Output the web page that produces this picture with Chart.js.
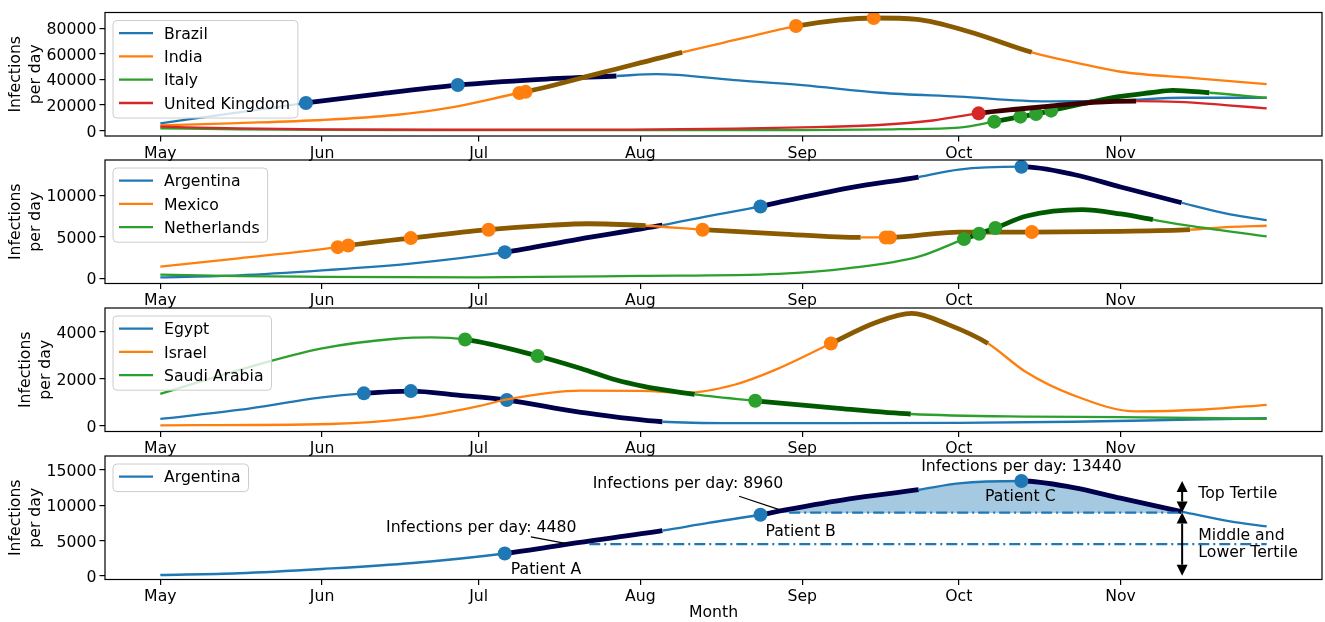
<!DOCTYPE html>
<html>
<head>
<meta charset="utf-8">
<script src="https://cdn.jsdelivr.net/npm/chart.js"></script>
<style>
  body { margin: 0; background: #fff; }
  #wrap { position: relative; width: 1325px; height: 622px; }
  canvas { position: absolute; left: 0; top: 0; }
</style>
</head>
<body>
<div id="wrap">
  <canvas id="c1" width="1325" height="622"></canvas>
  <canvas id="c2" width="1325" height="622"></canvas>
  <canvas id="c3" width="1325" height="622"></canvas>
  <canvas id="c4" width="1325" height="622"></canvas>
</div>
<script>
// x axis = days since 1 May
const monthDays = [0, 31, 61, 92, 123, 153, 184];
const monthNames = ['May', 'Jun', 'Jul', 'Aug', 'Sep', 'Oct', 'Nov'];

// panel 1
const brazilDays = [0, 14, 27.9, 42, 57, 72, 87.4, 95, 110, 123, 138, 153, 170, 184, 196, 212];
const brazilVals = [5600, 13500, 21500, 28700, 35500, 39800, 42600, 44000, 39400, 35500, 29500, 26400, 22700, 23500, 25600, 25600];
const brazilThick = [[27.9, 87.4]];
const brazilDots = [27.9, 57];

const indiaDays = [0, 15, 31, 45, 55.5, 68.8, 70, 85, 100, 111, 121.8, 130, 136.7, 145, 155, 167, 176, 184, 198, 212];
const indiaVals = [4000, 5800, 8200, 12100, 17800, 29300, 30200, 45600, 61100, 71500, 81600, 86300, 87900, 86800, 77200, 61100, 52500, 45900, 41000, 36300];
const indiaThick = [[68.8, 100], [121.8, 167]];
const indiaDots = [68.8, 70, 121.8, 136.7];

const italyDays = [0, 15, 31, 60, 90, 123, 141.5, 153, 159.8, 164.8, 167.8, 170.7, 178.6, 183.6, 189.7, 194, 201, 212];
const italyVals = [1700, 900, 450, 300, 300, 300, 1000, 2200, 6900, 10800, 12900, 15500, 22500, 26400, 29500, 31400, 29500, 25600];
const italyThick = [[159.8, 201]];
const italyDots = [159.8, 164.8, 167.8, 170.7];

const ukDays = [0, 15, 31, 60, 90, 110, 123, 137.7, 148, 156.8, 164, 170.5, 178.8, 187, 195, 204, 212];
const ukVals = [3000, 1600, 900, 600, 700, 1400, 2500, 4300, 7800, 13400, 16600, 19100, 22000, 23000, 22400, 19900, 17300];
const ukThick = [[156.8, 187]];
const ukDots = [156.8];

// panel 2 (Argentina also used in panel 4)
const argDays = [0, 15, 31, 48.4, 66, 80, 96.2, 105, 115, 118.5, 132, 145.3, 153, 165, 175, 184, 195.7, 205, 212];
const argVals = [100, 350, 950, 1800, 3150, 4700, 6400, 7500, 8650, 9150, 10900, 12200, 13100, 13440, 12500, 11000, 9100, 7700, 7000];
const argThick = [[66, 96.2], [115, 145.3], [165, 195.7]];
const argDots = [66, 115, 165];

const mexDays = [0, 15, 34, 36, 48, 62.9, 75, 82, 93, 103.9, 118.5, 134.2, 139, 139.8, 153, 167, 184, 197.3, 205, 212];
const mexVals = [1400, 2400, 3750, 3950, 4840, 5850, 6400, 6570, 6330, 5850, 5360, 4920, 4920, 4920, 5570, 5570, 5650, 5850, 6200, 6330];
const mexThick = [[36, 93], [103.9, 134.2], [139.8, 197.3]];
const mexDots = [34, 36, 48, 62.9, 103.9, 139, 139.8, 167];

const nethDays = [0, 15, 31, 61, 92, 118.5, 132, 145.3, 154, 156.9, 160, 166, 176.6, 184, 190.2, 198, 212];
const nethVals = [450, 250, 180, 120, 280, 520, 1210, 2600, 4720, 5360, 6050, 7500, 8270, 7750, 7060, 6250, 5040];
const nethThick = [[154, 190.2]];
const nethDots = [154, 156.9, 160];

// panel 3
const egyptDays = [0, 15, 31, 39, 48, 57, 66.4, 80, 96.2, 110, 130, 153, 175, 195, 212];
const egyptVals = [300, 680, 1215, 1385, 1480, 1310, 1100, 600, 180, 120, 120, 130, 180, 260, 330];
const egyptThick = [[39, 96.2]];
const egyptDots = [39, 48, 66.4];

const israelDays = [0, 32.5, 50, 61.2, 66.4, 80.5, 92, 100.8, 110, 117.7, 128.5, 137, 144, 151, 158.6, 165.8, 175, 187, 200, 212];
const israelVals = [30, 85, 390, 850, 1130, 1500, 1490, 1410, 1750, 2370, 3500, 4380, 4775, 4300, 3500, 2300, 1300, 620, 700, 900];
const israelThick = [[128.5, 158.6]];
const israelDots = [128.5];

const saudiDays = [0, 15, 31, 45, 52, 58.4, 72.3, 80.6, 87.4, 92.4, 97.5, 102.4, 114, 130, 143.8, 165.8, 184, 212];
const saudiVals = [1360, 2370, 3290, 3700, 3760, 3670, 2970, 2440, 1950, 1695, 1500, 1340, 1070, 750, 510, 400, 380, 300];
const saudiThick = [[58.4, 102.4], [114, 143.8]];
const saudiDots = [58.4, 72.3, 114];

// panel 4 annotations
const tertileValues = [4480, 8960, 13440];
const thresholdStart = [82.2, 120.5];
const thresholdEnd = [212, 195.6];
const patientNames = ['Patient A', 'Patient B', 'Patient C'];
const patientLabelX = [73.9, 122.7, 164.8];
const patientLabelY = [810, 6230, 11140];
const annotX = [61.5, 101.1, 165];
const annotY = [6750, 13080, 15440];
const connFromX = [71, 110.9];
const connFromY = [5520, 11280];
const connToX = [78.4, 118.9];
const connToY = [4480, 9300];
const tertileArrowX = 195.8;
const tertileLabelX = 198.9;
const tertileLabels = ['Top Tertile', 'Middle and', 'Lower Tertile'];
const tertileLabelY = [11670, 5660, 3170];

const p1Ticks = [0, 20000, 40000, 60000, 80000];
const p2Ticks = [0, 5000, 10000];
const p3Ticks = [0, 2000, 4000];
const p4Ticks = [0, 5000, 10000, 15000];

const FONT = "'DejaVu Sans', sans-serif";
const FS = 15.7;
const CAP = 0.3645 * FS; // half cap height, to centre text on a line
const BLUE = '#1f77b4', ORANGE = '#ff7f0e', GREEN = '#2ca02c', RED = '#d62728';
const NAVY = '#00004d', BROWN = '#8a5a00', DGREEN = '#005a00', MAROON = '#3d0000';

function pts(days, vals) {
  return days.map((d, i) => ({ x: d, y: vals[i] }));
}

function serie(label, days, vals, color, dark, thick, dots, order) {
  const isThick = c => thick.some(r => c.p0.parsed.x >= r[0] - 1e-9 && c.p1.parsed.x <= r[1] + 1e-9);
  return {
    label, order,
    data: pts(days, vals),
    borderColor: color,
    borderWidth: 2.3,
    borderJoinStyle: 'round',
    cubicInterpolationMode: 'monotone',
    pointRadius: c => (c.raw && dots.includes(c.raw.x)) ? 7 : 0,
    pointHoverRadius: 0,
    pointBackgroundColor: color,
    pointBorderWidth: 0,
    fill: false,
    segment: {
      borderColor: c => isThick(c) ? dark : color,
      borderWidth: c => isThick(c) ? 4.8 : 2.3
    }
  };
}

function drawLegend(chart) {
  const ctx = chart.ctx, a = chart.chartArea;
  const items = chart.data.datasets.filter(d => d.label);
  ctx.save();
  ctx.font = FS + 'px ' + FONT;
  const tw = Math.max(...items.map(d => ctx.measureText(d.label).width));
  const x0 = a.left + 8, y0 = a.top + 8;
  const w = 51 + tw + 8, h = 27.6 + (items.length - 1) * 23.3;
  ctx.beginPath();
  ctx.roundRect(x0, y0, w, h, 4);
  ctx.fillStyle = 'rgba(255,255,255,0.8)';
  ctx.fill();
  ctx.strokeStyle = '#cccccc';
  ctx.lineWidth = 1;
  ctx.stroke();
  items.forEach((d, i) => {
    const y = y0 + 12.6 + i * 23.3;
    ctx.strokeStyle = d.borderColor;
    ctx.lineWidth = 2.3;
    ctx.beginPath();
    ctx.moveTo(x0 + 6, y);
    ctx.lineTo(x0 + 40, y);
    ctx.stroke();
    ctx.fillStyle = '#000';
    ctx.textBaseline = 'alphabetic';
    ctx.textAlign = 'left';
    ctx.fillText(d.label, x0 + 51, y + CAP);
  });
  ctx.restore();
}

function drawFrame(chart) {
  const ctx = chart.ctx, a = chart.chartArea;
  ctx.save();
  ctx.strokeStyle = '#000';
  ctx.lineWidth = 1.2;
  ctx.strokeRect(a.left, a.top, a.right - a.left, a.bottom - a.top);
  ctx.restore();
}

// shade between the Argentina curve and the 8960 line where the curve is above it
function fillTopTertile(chart) {
  const meta = chart.getDatasetMeta(0);
  const a = chart.chartArea, ctx = chart.ctx;
  meta.dataset.updateControlPoints(a, 'x');
  const p = meta.data;
  const yT = Math.round(chart.scales.y.getPixelForValue(tertileValues[1]));
  ctx.save();
  ctx.beginPath();
  ctx.rect(a.left, a.top, a.right - a.left, yT - a.top);
  ctx.clip();
  ctx.beginPath();
  ctx.moveTo(p[0].x, p[0].y);
  for (let i = 1; i < p.length; i++) {
    ctx.bezierCurveTo(p[i - 1].cp2x, p[i - 1].cp2y, p[i].cp1x, p[i].cp1y, p[i].x, p[i].y);
  }
  ctx.lineTo(p[p.length - 1].x, yT + 2);
  ctx.lineTo(p[0].x, yT + 2);
  ctx.closePath();
  ctx.fillStyle = 'rgba(31,119,180,0.4)';
  ctx.fill();
  ctx.restore();
}

function doubleArrow(ctx, x, ya, yb) {
  const hl = 11, hw = 5.5, dir = Math.sign(yb - ya);
  ctx.beginPath();
  ctx.moveTo(x, ya + dir * hl);
  ctx.lineTo(x, yb - dir * hl);
  ctx.stroke();
  [[ya, -dir], [yb, dir]].forEach(([y, d]) => {
    ctx.beginPath();
    ctx.moveTo(x, y);
    ctx.lineTo(x - hw, y - d * hl);
    ctx.lineTo(x + hw, y - d * hl);
    ctx.closePath();
    ctx.fill();
  });
}

function drawAnnotations(chart) {
  const ctx = chart.ctx, xs = chart.scales.x, ys = chart.scales.y;
  const px = v => xs.getPixelForValue(v), py = v => ys.getPixelForValue(v);
  ctx.save();
  ctx.font = FS + 'px ' + FONT;
  ctx.fillStyle = '#000';
  ctx.strokeStyle = '#000';
  ctx.textBaseline = 'middle';
  ctx.textAlign = 'center';
  tertileValues.forEach((v, i) => ctx.fillText('Infections per day: ' + v, px(annotX[i]), py(annotY[i])));
  patientNames.forEach((n, i) => ctx.fillText(n, px(patientLabelX[i]), py(patientLabelY[i])));
  ctx.lineWidth = 1.2;
  connFromX.forEach((x, i) => {
    ctx.beginPath();
    ctx.moveTo(px(x), py(connFromY[i]));
    ctx.lineTo(px(connToX[i]), py(connToY[i]));
    ctx.stroke();
  });
  ctx.textAlign = 'left';
  tertileLabels.forEach((t, i) => ctx.fillText(t, px(tertileLabelX), py(tertileLabelY[i])));
  ctx.lineWidth = 2;
  const ax = px(tertileArrowX);
  doubleArrow(ctx, ax, py(tertileValues[2]), py(tertileValues[1]));
  doubleArrow(ctx, ax, py(tertileValues[1]), py(0));
  ctx.restore();
}

function makePanel(id, geo, yTicks, datasets, under, extra) {
  const font = { family: FONT, size: FS };
  new Chart(document.getElementById(id), {
    type: 'line',
    data: { datasets },
    options: {
      responsive: false,
      animation: false,
      events: [],
      layout: { padding: { top: geo.top, bottom: 622 - geo.bottom - geo.xh, left: 0, right: 3 } },
      plugins: { legend: { display: false }, tooltip: { enabled: false } },
      scales: {
        x: {
          type: 'linear', min: -10.6, max: 222.6,
          afterBuildTicks: s => { s.ticks = monthDays.map(v => ({ value: v })); },
          afterFit: s => { s.height = geo.xh; },
          ticks: { autoSkip: false, maxRotation: 0, padding: 3, color: '#000', font,
                   callback: v => monthNames[monthDays.indexOf(v)] },
          grid: { drawOnChartArea: false, tickLength: 5.5, color: '#000', lineWidth: 1.2 },
          border: { display: false },
          title: geo.xTitle
            ? { display: true, text: geo.xTitle, color: '#000', font: { family: FONT, size: FS, lineHeight: 1.1 }, padding: 0 }
            : { display: false }
        },
        y: {
          type: 'linear', min: geo.ymin, max: geo.ymax,
          afterBuildTicks: s => { s.ticks = yTicks.map(v => ({ value: v })); },
          afterFit: s => { s.width = 105; },
          ticks: { autoSkip: false, padding: 3, labelOffset: 2, color: '#000', font, callback: v => String(v) },
          grid: { drawOnChartArea: false, tickLength: 5.5, color: '#000', lineWidth: 1.2 },
          border: { display: false },
          title: { display: true, text: ['Infections', 'per day'], color: '#000',
                   font: { family: FONT, size: FS, lineHeight: 1.25 }, padding: { top: geo.titlePad, bottom: 0 } }
        }
      }
    },
    plugins: [{
      id: 'deco',
      beforeDatasetsDraw(chart) {
        if (under) under(chart);
      },
      afterDatasetsDraw(chart) {
        drawFrame(chart);
        if (extra) extra(chart);
        drawLegend(chart);
      }
    }]
  });
}

makePanel('c1', { top: 12.5, bottom: 136, xh: 30, ymin: -4300, ymax: 92200, titlePad: 6 }, p1Ticks, [
  serie('Brazil', brazilDays, brazilVals, BLUE, NAVY, brazilThick, brazilDots, 4),
  serie('India', indiaDays, indiaVals, ORANGE, BROWN, indiaThick, indiaDots, 3),
  serie('Italy', italyDays, italyVals, GREEN, DGREEN, italyThick, italyDots, 2),
  serie('United Kingdom', ukDays, ukVals, RED, MAROON, ukThick, ukDots, 1)
]);

makePanel('c2', { top: 160, bottom: 283.5, xh: 30, ymin: -630, ymax: 14250, titlePad: 6 }, p2Ticks, [
  serie('Argentina', argDays, argVals, BLUE, NAVY, argThick, argDots, 3),
  serie('Mexico', mexDays, mexVals, ORANGE, BROWN, mexThick, mexDots, 2),
  serie('Netherlands', nethDays, nethVals, GREEN, DGREEN, nethThick, nethDots, 1)
]);

makePanel('c3', { top: 308, bottom: 431.5, xh: 30, ymin: -233, ymax: 5005, titlePad: 16 }, p3Ticks, [
  serie('Egypt', egyptDays, egyptVals, BLUE, NAVY, egyptThick, egyptDots, 3),
  serie('Israel', israelDays, israelVals, ORANGE, BROWN, israelThick, israelDots, 2),
  serie('Saudi Arabia', saudiDays, saudiVals, GREEN, DGREEN, saudiThick, saudiDots, 1)
]);

const thresholdSets = thresholdStart.map((s, i) => ({
  order: 1,
  data: [{ x: s, y: tertileValues[i] }, { x: thresholdEnd[i], y: tertileValues[i] }],
  borderColor: BLUE, borderWidth: 2.3, borderDash: [11, 4, 2, 4],
  pointRadius: 0, fill: false, tension: 0
}));

makePanel('c4', { top: 456, bottom: 579.5, xh: 42.5, ymin: -540, ymax: 16990, titlePad: 6, xTitle: 'Month' }, p4Ticks,
  [serie('Argentina', argDays, argVals, BLUE, NAVY, argThick, argDots, 3), ...thresholdSets],
  fillTopTertile, drawAnnotations);
</script>
</body>
</html>
